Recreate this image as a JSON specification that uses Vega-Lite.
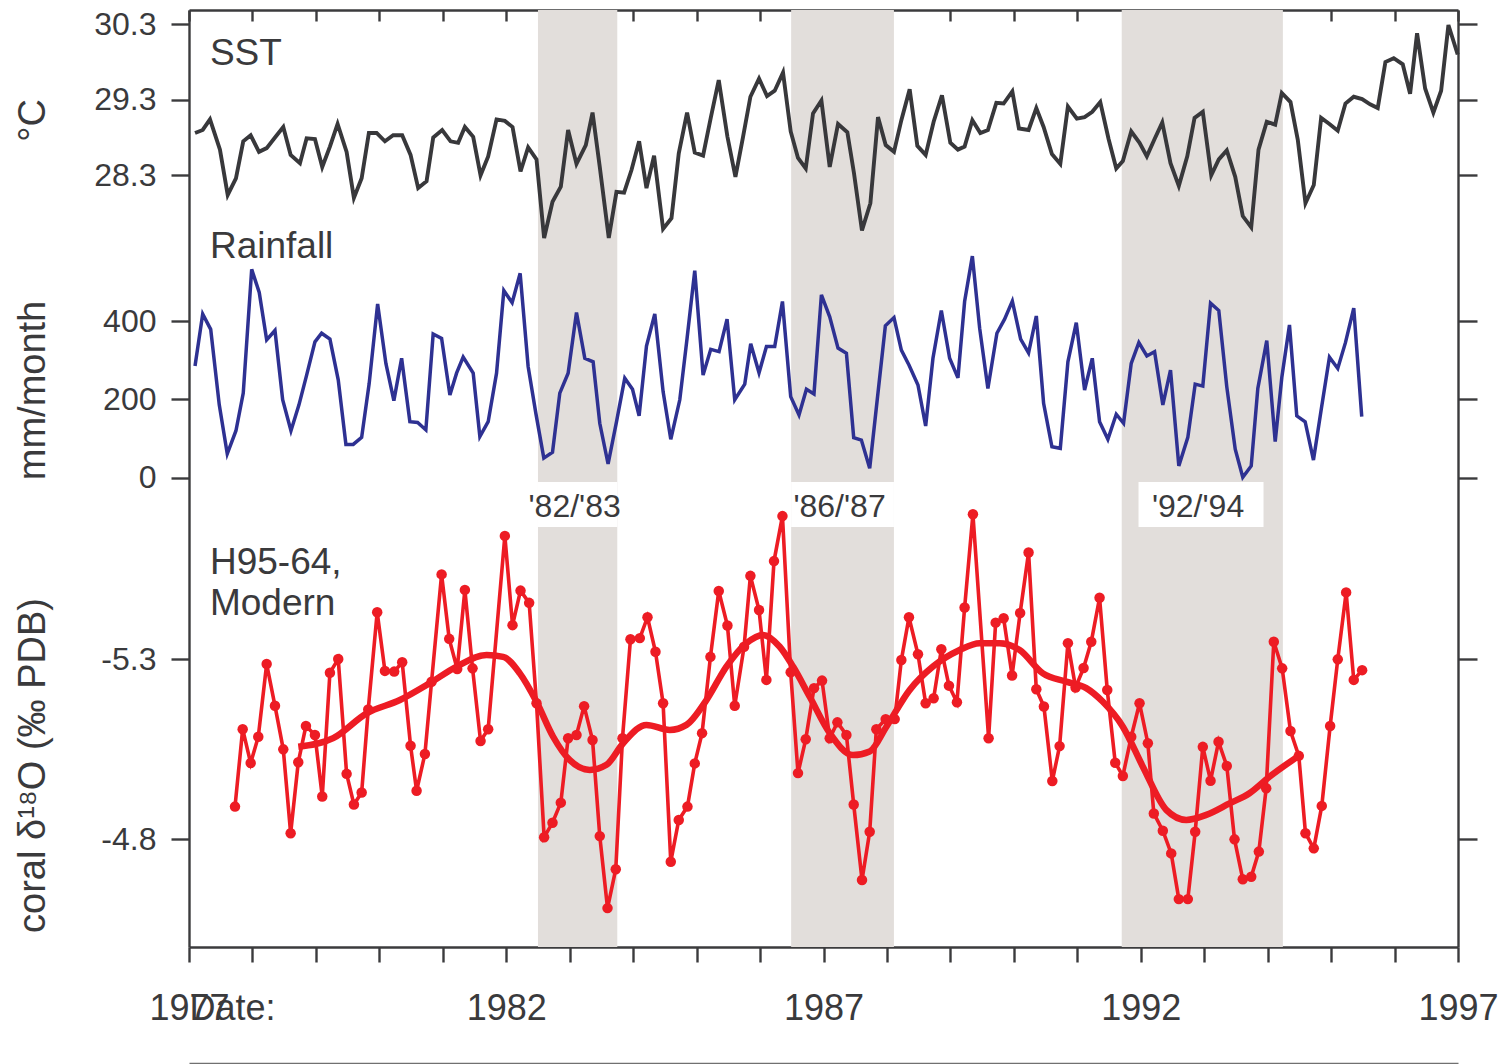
{
  "$schema": "https://vega.github.io/schema/vega-lite/v6.json",
  "width": 1269,
  "height": 937,
  "autosize": "none",
  "padding": {"left": 189, "top": 10, "right": 49, "bottom": 117},
  "background": "white",
  "config": {
    "view": {"stroke": null},
    "font": "Liberation Sans",
    "text": {"font": "Liberation Sans", "color": "#3a3a3c"},
    "axis": {
      "labelFont": "Liberation Sans",
      "titleFont": "Liberation Sans",
      "labelColor": "#3a3a3c",
      "titleColor": "#3a3a3c",
      "domainColor": "#3b3b3d",
      "tickColor": "#3b3b3d",
      "domainWidth": 2.4,
      "tickWidth": 2.4,
      "grid": false,
      "titleFontWeight": "normal",
      "labelFlush": false,
      "labelOverlap": false,
      "labelBound": false,
      "zindex": 1
    }
  },
  "datasets": {
    "events": [
      {"event": "'82/'83", "start": 1982.5, "end": 1983.75, "box_start": 1982.5, "box_end": 1983.75},
      {"event": "'86/'87", "start": 1986.49, "end": 1988.11, "box_start": 1986.49, "box_end": 1988.11},
      {"event": "'92/'94", "start": 1991.7, "end": 1994.24, "box_start": 1991.965, "box_end": 1993.935}
    ],
    "sst": [
      {"year": 1977.095, "sst": 28.86}, {"year": 1977.216, "sst": 28.90}, {"year": 1977.331, "sst": 29.04}, {"year": 1977.488, "sst": 28.64},
      {"year": 1977.610, "sst": 28.04}, {"year": 1977.740, "sst": 28.26}, {"year": 1977.855, "sst": 28.75}, {"year": 1977.972, "sst": 28.83},
      {"year": 1978.103, "sst": 28.61}, {"year": 1978.224, "sst": 28.66}, {"year": 1978.355, "sst": 28.80}, {"year": 1978.486, "sst": 28.94},
      {"year": 1978.602, "sst": 28.57}, {"year": 1978.749, "sst": 28.46}, {"year": 1978.854, "sst": 28.79}, {"year": 1978.985, "sst": 28.78},
      {"year": 1979.100, "sst": 28.41}, {"year": 1979.221, "sst": 28.68}, {"year": 1979.342, "sst": 28.98}, {"year": 1979.484, "sst": 28.61},
      {"year": 1979.599, "sst": 28.00}, {"year": 1979.721, "sst": 28.26}, {"year": 1979.835, "sst": 28.86}, {"year": 1979.957, "sst": 28.86},
      {"year": 1980.088, "sst": 28.75}, {"year": 1980.218, "sst": 28.83}, {"year": 1980.360, "sst": 28.83}, {"year": 1980.492, "sst": 28.57},
      {"year": 1980.612, "sst": 28.13}, {"year": 1980.744, "sst": 28.22}, {"year": 1980.849, "sst": 28.80}, {"year": 1980.990, "sst": 28.90},
      {"year": 1981.123, "sst": 28.75}, {"year": 1981.242, "sst": 28.73}, {"year": 1981.348, "sst": 28.94}, {"year": 1981.479, "sst": 28.81},
      {"year": 1981.595, "sst": 28.30}, {"year": 1981.715, "sst": 28.55}, {"year": 1981.847, "sst": 29.04}, {"year": 1981.978, "sst": 29.02},
      {"year": 1982.099, "sst": 28.94}, {"year": 1982.225, "sst": 28.35}, {"year": 1982.345, "sst": 28.67}, {"year": 1982.477, "sst": 28.51},
      {"year": 1982.597, "sst": 27.47}, {"year": 1982.729, "sst": 27.95}, {"year": 1982.860, "sst": 28.15}, {"year": 1982.975, "sst": 28.90},
      {"year": 1983.107, "sst": 28.45}, {"year": 1983.254, "sst": 28.70}, {"year": 1983.360, "sst": 29.13}, {"year": 1983.474, "sst": 28.41},
      {"year": 1983.616, "sst": 27.47}, {"year": 1983.737, "sst": 28.08}, {"year": 1983.857, "sst": 28.07}, {"year": 1983.974, "sst": 28.37},
      {"year": 1984.094, "sst": 28.75}, {"year": 1984.210, "sst": 28.13}, {"year": 1984.330, "sst": 28.56}, {"year": 1984.472, "sst": 27.59},
      {"year": 1984.604, "sst": 27.73}, {"year": 1984.719, "sst": 28.59}, {"year": 1984.850, "sst": 29.13}, {"year": 1984.971, "sst": 28.60},
      {"year": 1985.102, "sst": 28.56}, {"year": 1985.223, "sst": 29.06}, {"year": 1985.349, "sst": 29.56}, {"year": 1985.486, "sst": 28.81},
      {"year": 1985.612, "sst": 28.28}, {"year": 1985.732, "sst": 28.81}, {"year": 1985.848, "sst": 29.34}, {"year": 1985.984, "sst": 29.58},
      {"year": 1986.110, "sst": 29.35}, {"year": 1986.231, "sst": 29.42}, {"year": 1986.362, "sst": 29.66}, {"year": 1986.483, "sst": 28.88},
      {"year": 1986.598, "sst": 28.53}, {"year": 1986.720, "sst": 28.39}, {"year": 1986.835, "sst": 29.12}, {"year": 1986.967, "sst": 29.29},
      {"year": 1987.098, "sst": 28.41}, {"year": 1987.229, "sst": 28.98}, {"year": 1987.376, "sst": 28.87}, {"year": 1987.480, "sst": 28.33},
      {"year": 1987.606, "sst": 27.57}, {"year": 1987.739, "sst": 27.93}, {"year": 1987.859, "sst": 29.07}, {"year": 1987.980, "sst": 28.70},
      {"year": 1988.111, "sst": 28.61}, {"year": 1988.227, "sst": 29.03}, {"year": 1988.358, "sst": 29.44}, {"year": 1988.479, "sst": 28.69},
      {"year": 1988.610, "sst": 28.57}, {"year": 1988.736, "sst": 29.01}, {"year": 1988.867, "sst": 29.36}, {"year": 1988.999, "sst": 28.73},
      {"year": 1989.119, "sst": 28.64}, {"year": 1989.224, "sst": 28.68}, {"year": 1989.346, "sst": 29.03}, {"year": 1989.472, "sst": 28.86},
      {"year": 1989.591, "sst": 28.90}, {"year": 1989.724, "sst": 29.26}, {"year": 1989.839, "sst": 29.25}, {"year": 1989.976, "sst": 29.41},
      {"year": 1990.080, "sst": 28.92}, {"year": 1990.232, "sst": 28.90}, {"year": 1990.354, "sst": 29.19}, {"year": 1990.469, "sst": 28.94},
      {"year": 1990.600, "sst": 28.58}, {"year": 1990.732, "sst": 28.45}, {"year": 1990.852, "sst": 29.21}, {"year": 1990.993, "sst": 29.05},
      {"year": 1991.115, "sst": 29.07}, {"year": 1991.236, "sst": 29.14}, {"year": 1991.362, "sst": 29.27}, {"year": 1991.493, "sst": 28.78},
      {"year": 1991.614, "sst": 28.39}, {"year": 1991.718, "sst": 28.49}, {"year": 1991.850, "sst": 28.88}, {"year": 1991.981, "sst": 28.73},
      {"year": 1992.096, "sst": 28.55}, {"year": 1992.218, "sst": 28.78}, {"year": 1992.339, "sst": 29.00}, {"year": 1992.469, "sst": 28.46},
      {"year": 1992.600, "sst": 28.16}, {"year": 1992.733, "sst": 28.55}, {"year": 1992.848, "sst": 29.06}, {"year": 1992.978, "sst": 29.14},
      {"year": 1993.111, "sst": 28.30}, {"year": 1993.230, "sst": 28.51}, {"year": 1993.356, "sst": 28.63}, {"year": 1993.489, "sst": 28.28},
      {"year": 1993.608, "sst": 27.76}, {"year": 1993.741, "sst": 27.61}, {"year": 1993.856, "sst": 28.64}, {"year": 1993.986, "sst": 29.01},
      {"year": 1994.119, "sst": 28.97}, {"year": 1994.223, "sst": 29.39}, {"year": 1994.360, "sst": 29.27}, {"year": 1994.475, "sst": 28.77},
      {"year": 1994.596, "sst": 27.93}, {"year": 1994.727, "sst": 28.17}, {"year": 1994.843, "sst": 29.06}, {"year": 1994.974, "sst": 28.98},
      {"year": 1995.105, "sst": 28.89}, {"year": 1995.226, "sst": 29.25}, {"year": 1995.357, "sst": 29.34}, {"year": 1995.489, "sst": 29.31},
      {"year": 1995.615, "sst": 29.24}, {"year": 1995.735, "sst": 29.19}, {"year": 1995.856, "sst": 29.80}, {"year": 1995.987, "sst": 29.85},
      {"year": 1996.129, "sst": 29.77}, {"year": 1996.245, "sst": 29.38}, {"year": 1996.355, "sst": 30.18}, {"year": 1996.482, "sst": 29.45},
      {"year": 1996.612, "sst": 29.13}, {"year": 1996.734, "sst": 29.42}, {"year": 1996.849, "sst": 30.29}, {"year": 1996.995, "sst": 29.90}
    ],
    "rain": [
      {"year": 1977.095, "mm": 285}, {"year": 1977.216, "mm": 418}, {"year": 1977.342, "mm": 379}, {"year": 1977.477, "mm": 186},
      {"year": 1977.603, "mm": 61}, {"year": 1977.740, "mm": 120}, {"year": 1977.855, "mm": 216}, {"year": 1977.988, "mm": 532},
      {"year": 1978.107, "mm": 473}, {"year": 1978.224, "mm": 352}, {"year": 1978.355, "mm": 376}, {"year": 1978.476, "mm": 199},
      {"year": 1978.607, "mm": 120}, {"year": 1978.733, "mm": 186}, {"year": 1978.854, "mm": 262}, {"year": 1978.985, "mm": 347},
      {"year": 1979.090, "mm": 369}, {"year": 1979.221, "mm": 354}, {"year": 1979.352, "mm": 250}, {"year": 1979.473, "mm": 85},
      {"year": 1979.588, "mm": 85}, {"year": 1979.721, "mm": 103}, {"year": 1979.840, "mm": 241}, {"year": 1979.973, "mm": 444},
      {"year": 1980.103, "mm": 292}, {"year": 1980.229, "mm": 197}, {"year": 1980.351, "mm": 305}, {"year": 1980.481, "mm": 143},
      {"year": 1980.603, "mm": 141}, {"year": 1980.733, "mm": 122}, {"year": 1980.848, "mm": 367}, {"year": 1980.981, "mm": 356},
      {"year": 1981.112, "mm": 211}, {"year": 1981.217, "mm": 267}, {"year": 1981.321, "mm": 308}, {"year": 1981.479, "mm": 267},
      {"year": 1981.584, "mm": 105}, {"year": 1981.715, "mm": 143}, {"year": 1981.847, "mm": 267}, {"year": 1981.962, "mm": 478},
      {"year": 1982.093, "mm": 447}, {"year": 1982.219, "mm": 522}, {"year": 1982.345, "mm": 284}, {"year": 1982.466, "mm": 165},
      {"year": 1982.592, "mm": 50}, {"year": 1982.729, "mm": 65}, {"year": 1982.844, "mm": 216}, {"year": 1982.975, "mm": 267},
      {"year": 1983.107, "mm": 422}, {"year": 1983.238, "mm": 305}, {"year": 1983.369, "mm": 296}, {"year": 1983.474, "mm": 139},
      {"year": 1983.605, "mm": 35}, {"year": 1983.738, "mm": 143}, {"year": 1983.868, "mm": 254}, {"year": 1983.990, "mm": 226},
      {"year": 1984.094, "mm": 158}, {"year": 1984.210, "mm": 336}, {"year": 1984.341, "mm": 418}, {"year": 1984.472, "mm": 220},
      {"year": 1984.593, "mm": 98}, {"year": 1984.735, "mm": 199}, {"year": 1984.850, "mm": 356}, {"year": 1984.971, "mm": 529},
      {"year": 1985.102, "mm": 262}, {"year": 1985.223, "mm": 328}, {"year": 1985.354, "mm": 322}, {"year": 1985.480, "mm": 405},
      {"year": 1985.601, "mm": 199}, {"year": 1985.759, "mm": 239}, {"year": 1985.853, "mm": 342}, {"year": 1985.984, "mm": 268},
      {"year": 1986.101, "mm": 335}, {"year": 1986.231, "mm": 335}, {"year": 1986.353, "mm": 450}, {"year": 1986.483, "mm": 207},
      {"year": 1986.614, "mm": 160}, {"year": 1986.731, "mm": 226}, {"year": 1986.850, "mm": 214}, {"year": 1986.967, "mm": 467},
      {"year": 1987.098, "mm": 411}, {"year": 1987.229, "mm": 331}, {"year": 1987.361, "mm": 318}, {"year": 1987.476, "mm": 102},
      {"year": 1987.597, "mm": 96}, {"year": 1987.728, "mm": 24}, {"year": 1987.975, "mm": 388}, {"year": 1988.111, "mm": 409},
      {"year": 1988.227, "mm": 326}, {"year": 1988.347, "mm": 288}, {"year": 1988.489, "mm": 237}, {"year": 1988.610, "mm": 132},
      {"year": 1988.725, "mm": 305}, {"year": 1988.857, "mm": 427}, {"year": 1988.988, "mm": 305}, {"year": 1989.119, "mm": 255},
      {"year": 1989.224, "mm": 450}, {"year": 1989.346, "mm": 566}, {"year": 1989.461, "mm": 382}, {"year": 1989.591, "mm": 228},
      {"year": 1989.733, "mm": 369}, {"year": 1989.854, "mm": 405}, {"year": 1989.976, "mm": 451}, {"year": 1990.107, "mm": 354},
      {"year": 1990.232, "mm": 319}, {"year": 1990.354, "mm": 413}, {"year": 1990.469, "mm": 190}, {"year": 1990.600, "mm": 79},
      {"year": 1990.732, "mm": 75}, {"year": 1990.852, "mm": 296}, {"year": 1990.984, "mm": 396}, {"year": 1991.115, "mm": 224},
      {"year": 1991.236, "mm": 305}, {"year": 1991.351, "mm": 143}, {"year": 1991.482, "mm": 98}, {"year": 1991.614, "mm": 162},
      {"year": 1991.729, "mm": 139}, {"year": 1991.850, "mm": 292}, {"year": 1991.970, "mm": 345}, {"year": 1992.096, "mm": 311},
      {"year": 1992.218, "mm": 322}, {"year": 1992.348, "mm": 186}, {"year": 1992.469, "mm": 275}, {"year": 1992.600, "mm": 30},
      {"year": 1992.742, "mm": 103}, {"year": 1992.858, "mm": 239}, {"year": 1992.978, "mm": 234}, {"year": 1993.100, "mm": 446},
      {"year": 1993.230, "mm": 427}, {"year": 1993.356, "mm": 232}, {"year": 1993.489, "mm": 73}, {"year": 1993.608, "mm": 1},
      {"year": 1993.741, "mm": 30}, {"year": 1993.845, "mm": 228}, {"year": 1993.986, "mm": 350}, {"year": 1994.119, "mm": 92},
      {"year": 1994.223, "mm": 256}, {"year": 1994.344, "mm": 390}, {"year": 1994.459, "mm": 158}, {"year": 1994.591, "mm": 143},
      {"year": 1994.722, "mm": 45}, {"year": 1994.843, "mm": 173}, {"year": 1994.974, "mm": 308}, {"year": 1995.105, "mm": 279},
      {"year": 1995.226, "mm": 345}, {"year": 1995.357, "mm": 433}, {"year": 1995.483, "mm": 156}
    ],
    "coral": [
      {"year": 1977.725, "d18o": -4.890}, {"year": 1977.846, "d18o": -5.105}, {"year": 1977.972, "d18o": -5.011}, {"year": 1978.092, "d18o": -5.084},
      {"year": 1978.224, "d18o": -5.286}, {"year": 1978.355, "d18o": -5.170}, {"year": 1978.486, "d18o": -5.049}, {"year": 1978.602, "d18o": -4.816},
      {"year": 1978.722, "d18o": -5.013}, {"year": 1978.843, "d18o": -5.114}, {"year": 1978.985, "d18o": -5.089}, {"year": 1979.100, "d18o": -4.918},
      {"year": 1979.221, "d18o": -5.262}, {"year": 1979.352, "d18o": -5.300}, {"year": 1979.484, "d18o": -4.981}, {"year": 1979.599, "d18o": -4.896},
      {"year": 1979.721, "d18o": -4.929}, {"year": 1979.825, "d18o": -5.160}, {"year": 1979.966, "d18o": -5.430}, {"year": 1980.088, "d18o": -5.267},
      {"year": 1980.234, "d18o": -5.265}, {"year": 1980.360, "d18o": -5.291}, {"year": 1980.492, "d18o": -5.059}, {"year": 1980.587, "d18o": -4.934},
      {"year": 1980.718, "d18o": -5.036}, {"year": 1980.823, "d18o": -5.237}, {"year": 1980.981, "d18o": -5.535}, {"year": 1981.101, "d18o": -5.356},
      {"year": 1981.227, "d18o": -5.272}, {"year": 1981.348, "d18o": -5.492}, {"year": 1981.469, "d18o": -5.274}, {"year": 1981.595, "d18o": -5.072},
      {"year": 1981.715, "d18o": -5.105}, {"year": 1981.978, "d18o": -5.642}, {"year": 1982.099, "d18o": -5.394}, {"year": 1982.225, "d18o": -5.490},
      {"year": 1982.361, "d18o": -5.456}, {"year": 1982.477, "d18o": -5.177}, {"year": 1982.597, "d18o": -4.805}, {"year": 1982.729, "d18o": -4.845},
      {"year": 1982.860, "d18o": -4.901}, {"year": 1982.975, "d18o": -5.080}, {"year": 1983.107, "d18o": -5.089}, {"year": 1983.227, "d18o": -5.169},
      {"year": 1983.360, "d18o": -5.075}, {"year": 1983.474, "d18o": -4.808}, {"year": 1983.596, "d18o": -4.608}, {"year": 1983.726, "d18o": -4.716},
      {"year": 1983.832, "d18o": -5.080}, {"year": 1983.958, "d18o": -5.355}, {"year": 1984.105, "d18o": -5.358}, {"year": 1984.226, "d18o": -5.416},
      {"year": 1984.352, "d18o": -5.320}, {"year": 1984.472, "d18o": -5.177}, {"year": 1984.593, "d18o": -4.737}, {"year": 1984.719, "d18o": -4.853},
      {"year": 1984.856, "d18o": -4.890}, {"year": 1984.971, "d18o": -5.010}, {"year": 1985.086, "d18o": -5.094}, {"year": 1985.218, "d18o": -5.306},
      {"year": 1985.349, "d18o": -5.489}, {"year": 1985.486, "d18o": -5.393}, {"year": 1985.601, "d18o": -5.170}, {"year": 1985.748, "d18o": -5.334},
      {"year": 1985.848, "d18o": -5.531}, {"year": 1985.984, "d18o": -5.436}, {"year": 1986.100, "d18o": -5.242}, {"year": 1986.220, "d18o": -5.572},
      {"year": 1986.353, "d18o": -5.697}, {"year": 1986.483, "d18o": -5.263}, {"year": 1986.598, "d18o": -4.983}, {"year": 1986.720, "d18o": -5.077},
      {"year": 1986.850, "d18o": -5.219}, {"year": 1986.977, "d18o": -5.240}, {"year": 1987.098, "d18o": -5.080}, {"year": 1987.219, "d18o": -5.124},
      {"year": 1987.361, "d18o": -5.089}, {"year": 1987.476, "d18o": -4.896}, {"year": 1987.607, "d18o": -4.686}, {"year": 1987.728, "d18o": -4.820},
      {"year": 1987.833, "d18o": -5.105}, {"year": 1987.980, "d18o": -5.133}, {"year": 1988.122, "d18o": -5.133}, {"year": 1988.227, "d18o": -5.297},
      {"year": 1988.347, "d18o": -5.416}, {"year": 1988.489, "d18o": -5.313}, {"year": 1988.610, "d18o": -5.177}, {"year": 1988.736, "d18o": -5.191},
      {"year": 1988.857, "d18o": -5.327}, {"year": 1988.977, "d18o": -5.226}, {"year": 1989.103, "d18o": -5.180}, {"year": 1989.224, "d18o": -5.443},
      {"year": 1989.355, "d18o": -5.702}, {"year": 1989.602, "d18o": -5.080}, {"year": 1989.713, "d18o": -5.401}, {"year": 1989.839, "d18o": -5.413},
      {"year": 1989.972, "d18o": -5.254}, {"year": 1990.099, "d18o": -5.428}, {"year": 1990.232, "d18o": -5.596}, {"year": 1990.354, "d18o": -5.216},
      {"year": 1990.474, "d18o": -5.168}, {"year": 1990.606, "d18o": -4.961}, {"year": 1990.721, "d18o": -5.058}, {"year": 1990.852, "d18o": -5.344},
      {"year": 1990.973, "d18o": -5.221}, {"year": 1991.099, "d18o": -5.275}, {"year": 1991.220, "d18o": -5.348}, {"year": 1991.351, "d18o": -5.470},
      {"year": 1991.472, "d18o": -5.214}, {"year": 1991.598, "d18o": -5.012}, {"year": 1991.718, "d18o": -4.975}, {"year": 1991.850, "d18o": -5.084},
      {"year": 1991.981, "d18o": -5.177}, {"year": 1992.112, "d18o": -5.066}, {"year": 1992.206, "d18o": -4.871}, {"year": 1992.348, "d18o": -4.823},
      {"year": 1992.480, "d18o": -4.760}, {"year": 1992.600, "d18o": -4.633}, {"year": 1992.742, "d18o": -4.633}, {"year": 1992.858, "d18o": -4.820},
      {"year": 1992.978, "d18o": -5.056}, {"year": 1993.100, "d18o": -4.962}, {"year": 1993.226, "d18o": -5.070}, {"year": 1993.356, "d18o": -5.003},
      {"year": 1993.478, "d18o": -4.799}, {"year": 1993.608, "d18o": -4.688}, {"year": 1993.741, "d18o": -4.695}, {"year": 1993.861, "d18o": -4.765},
      {"year": 1993.977, "d18o": -4.941}, {"year": 1994.097, "d18o": -5.348}, {"year": 1994.229, "d18o": -5.274}, {"year": 1994.360, "d18o": -5.100},
      {"year": 1994.491, "d18o": -5.031}, {"year": 1994.596, "d18o": -4.816}, {"year": 1994.727, "d18o": -4.774}, {"year": 1994.853, "d18o": -4.892},
      {"year": 1994.985, "d18o": -5.114}, {"year": 1995.105, "d18o": -5.299}, {"year": 1995.237, "d18o": -5.485}, {"year": 1995.357, "d18o": -5.242},
      {"year": 1995.489, "d18o": -5.269}
    ],
    "smooth": [
      {"year": 1978.722, "d18o": -5.056}, {"year": 1979.273, "d18o": -5.080}, {"year": 1979.799, "d18o": -5.149}, {"year": 1980.324, "d18o": -5.186},
      {"year": 1980.796, "d18o": -5.233}, {"year": 1981.217, "d18o": -5.279}, {"year": 1981.690, "d18o": -5.311}, {"year": 1981.951, "d18o": -5.306},
      {"year": 1982.214, "d18o": -5.260}, {"year": 1982.477, "d18o": -5.181}, {"year": 1982.739, "d18o": -5.084}, {"year": 1983.002, "d18o": -5.019},
      {"year": 1983.317, "d18o": -4.992}, {"year": 1983.580, "d18o": -5.006}, {"year": 1983.842, "d18o": -5.066}, {"year": 1984.210, "d18o": -5.117},
      {"year": 1984.577, "d18o": -5.103}, {"year": 1984.840, "d18o": -5.117}, {"year": 1985.155, "d18o": -5.186}, {"year": 1985.470, "d18o": -5.279},
      {"year": 1985.785, "d18o": -5.344}, {"year": 1986.047, "d18o": -5.367}, {"year": 1986.310, "d18o": -5.334}, {"year": 1986.520, "d18o": -5.279},
      {"year": 1986.783, "d18o": -5.195}, {"year": 1987.098, "d18o": -5.094}, {"year": 1987.465, "d18o": -5.033}, {"year": 1987.728, "d18o": -5.043},
      {"year": 1987.991, "d18o": -5.112}, {"year": 1988.358, "d18o": -5.214}, {"year": 1988.725, "d18o": -5.279}, {"year": 1989.146, "d18o": -5.325},
      {"year": 1989.461, "d18o": -5.344}, {"year": 1989.776, "d18o": -5.344}, {"year": 1990.091, "d18o": -5.325}, {"year": 1990.458, "d18o": -5.260},
      {"year": 1990.826, "d18o": -5.237}, {"year": 1991.141, "d18o": -5.219}, {"year": 1991.403, "d18o": -5.181}, {"year": 1991.718, "d18o": -5.112},
      {"year": 1992.033, "d18o": -5.001}, {"year": 1992.402, "d18o": -4.881}, {"year": 1992.717, "d18o": -4.853}, {"year": 1993.032, "d18o": -4.867},
      {"year": 1993.399, "d18o": -4.899}, {"year": 1993.714, "d18o": -4.927}, {"year": 1994.029, "d18o": -4.973}, {"year": 1994.491, "d18o": -5.031}
    ]
  },
  "resolve": {
    "scale": {"y": "independent"},
    "axis": {"x": "independent", "y": "independent"}
  },
  "layer": [
    {
      "data": {"name": "events"},
      "mark": {"type": "rect", "color": "#e2dedb"},
      "encoding": {
        "x": {
          "field": "start", "type": "quantitative",
          "scale": {"domain": [1977, 1997], "nice": false, "zero": false},
          "axis": {
            "orient": "top",
            "values": [1977, 1978, 1979, 1980, 1981, 1982, 1983, 1984, 1985, 1986, 1987, 1988, 1989, 1990, 1991, 1992, 1993, 1994, 1995, 1996, 1997],
            "labels": false, "tickSize": -11, "title": null
          }
        },
        "x2": {"field": "end"}
      }
    },
    {
      "data": {"name": "events"},
      "mark": {"type": "rect", "color": "white"},
      "encoding": {
        "x": {
          "field": "box_start", "type": "quantitative",
          "scale": {"domain": [1977, 1997], "nice": false, "zero": false},
          "axis": {
            "orient": "bottom", "offset": 116, "ticks": false, "labels": false, "title": null,
            "domainColor": "#707070", "domainWidth": 1.3
          }
        },
        "x2": {"field": "box_end"},
        "y": {"datum": -11, "type": "quantitative", "scale": {"domain": [-1198.7, 1194.6], "nice": false, "zero": false}, "axis": null},
        "y2": {"datum": -126}
      }
    },
    {
      "data": {"name": "events"},
      "transform": [{"calculate": "(datum.box_start + datum.box_end) / 2", "as": "mid"}],
      "mark": {"type": "text", "fontSize": 32, "align": "center", "baseline": "alphabetic", "dx": -3, "color": "#3a3a3c"},
      "encoding": {
        "x": {"field": "mid", "type": "quantitative", "scale": {"domain": [1977, 1997], "nice": false, "zero": false}, "axis": null},
        "y": {"datum": -100, "type": "quantitative", "scale": {"domain": [-1198.7, 1194.6], "nice": false, "zero": false}, "axis": null},
        "text": {"field": "event"}
      }
    },
    {
      "data": {"name": "sst"},
      "mark": {"type": "line", "color": "#38383b", "strokeWidth": 3.9, "strokeJoin": "miter"},
      "encoding": {
        "x": {
          "field": "year", "type": "quantitative",
          "scale": {"domain": [1977, 1997], "nice": false, "zero": false},
          "axis": {
            "orient": "bottom",
            "values": [1977, 1978, 1979, 1980, 1981, 1982, 1983, 1984, 1985, 1986, 1987, 1988, 1989, 1990, 1991, 1992, 1993, 1994, 1995, 1996, 1997],
            "labelExpr": "datum.value % 5 == 2 ? '' + datum.value : ''",
            "tickSize": 15, "labelFontSize": 36, "labelBaseline": "alphabetic", "labelPadding": 57,
            "title": "Date:", "titleFontSize": 36, "titleX": 0, "titleY": 72,
            "titleAlign": "left", "titleBaseline": "alphabetic", "titleAnchor": "start"
          }
        },
        "y": {
          "field": "sst", "type": "quantitative",
          "scale": {"domain": [18.079, 30.489], "nice": false, "zero": false},
          "axis": {
            "orient": "left", "values": [28.3, 29.3, 30.3], "format": ".1f",
            "tickSize": 18, "labelPadding": 15, "labelFontSize": 32,
            "title": "°C", "titleFontSize": 38, "titleAngle": -90, "titleX": -145, "titleY": 110,
            "titleAlign": "center", "titleBaseline": "alphabetic"
          }
        }
      }
    },
    {
      "data": {"values": [{"label": "SST"}]},
      "mark": {"type": "text", "fontSize": 37, "align": "left", "baseline": "alphabetic", "color": "#3a3a3c"},
      "encoding": {
        "x": {"datum": 1977.33, "type": "quantitative", "scale": {"domain": [1977, 1997], "nice": false, "zero": false}, "axis": null},
        "y": {
          "datum": 29.754, "type": "quantitative",
          "scale": {"domain": [18.079, 30.489], "nice": false, "zero": false},
          "axis": {"orient": "right", "values": [28.3, 29.3, 30.3], "labels": false, "tickSize": 19, "title": null}
        },
        "text": {"field": "label"}
      }
    },
    {
      "data": {"name": "rain"},
      "mark": {"type": "line", "color": "#2e3192", "strokeWidth": 3.5, "strokeJoin": "miter"},
      "encoding": {
        "x": {"field": "year", "type": "quantitative", "scale": {"domain": [1977, 1997], "nice": false, "zero": false}, "axis": null},
        "y": {
          "field": "mm", "type": "quantitative",
          "scale": {"domain": [-1198.7, 1194.6], "nice": false, "zero": false},
          "axis": {
            "orient": "left", "values": [0, 200, 400], "domain": false,
            "tickSize": 18, "labelPadding": 15, "labelFontSize": 32,
            "title": "mm/month", "titleFontSize": 38, "titleAngle": -90, "titleX": -145, "titleY": 380,
            "titleAlign": "center", "titleBaseline": "alphabetic"
          }
        }
      }
    },
    {
      "data": {"values": [{"label": "Rainfall"}]},
      "mark": {"type": "text", "fontSize": 37, "align": "left", "baseline": "alphabetic", "color": "#3a3a3c"},
      "encoding": {
        "x": {"datum": 1977.33, "type": "quantitative", "scale": {"domain": [1977, 1997], "nice": false, "zero": false}, "axis": null},
        "y": {
          "datum": 560, "type": "quantitative",
          "scale": {"domain": [-1198.7, 1194.6], "nice": false, "zero": false},
          "axis": {"orient": "right", "values": [0, 200, 400], "labels": false, "domain": false, "tickSize": 19, "title": null}
        },
        "text": {"field": "label"}
      }
    },
    {
      "data": {"name": "smooth"},
      "mark": {"type": "line", "color": "#ed1c24", "strokeWidth": 6.5, "interpolate": "monotone"},
      "encoding": {
        "x": {"field": "year", "type": "quantitative", "scale": {"domain": [1977, 1997], "nice": false, "zero": false}, "axis": null},
        "y": {
          "field": "d18o", "type": "quantitative",
          "scale": {"domain": [-7.1028, -4.5], "reverse": true, "nice": false, "zero": false},
          "axis": {"orient": "right", "values": [-5.3, -4.8], "labels": false, "domain": false, "tickSize": 19, "title": null}
        }
      }
    },
    {
      "data": {"name": "coral"},
      "mark": {"type": "line", "color": "#ed1c24", "strokeWidth": 3.6, "strokeJoin": "miter",
               "point": {"filled": true, "size": 110, "color": "#ed1c24", "opacity": 1}},
      "encoding": {
        "x": {"field": "year", "type": "quantitative", "scale": {"domain": [1977, 1997], "nice": false, "zero": false}, "axis": null},
        "y": {
          "field": "d18o", "type": "quantitative",
          "scale": {"domain": [-7.1028, -4.5], "reverse": true, "nice": false, "zero": false},
          "axis": {
            "orient": "left", "values": [-5.3, -4.8], "domain": false,
            "labelExpr": "datum.value < 0 ? '-' + format(-datum.value, '.1f') : format(datum.value, '.1f')",
            "tickSize": 18, "labelPadding": 15, "labelFontSize": 32,
            "title": "coral δ¹⁸O (‰ PDB)", "titleFontSize": 38, "titleAngle": -90, "titleX": -145, "titleY": 755,
            "titleAlign": "center", "titleBaseline": "alphabetic"
          }
        }
      }
    },
    {
      "data": {"values": [{"label": "H95-64,\nModern"}]},
      "mark": {"type": "text", "fontSize": 37, "align": "left", "baseline": "alphabetic", "lineBreak": "\n", "lineHeight": 41, "color": "#3a3a3c"},
      "encoding": {
        "x": {"datum": 1977.33, "type": "quantitative", "scale": {"domain": [1977, 1997], "nice": false, "zero": false}, "axis": null},
        "y": {"datum": -5.535, "type": "quantitative", "scale": {"domain": [-7.1028, -4.5], "reverse": true, "nice": false, "zero": false}, "axis": null},
        "text": {"field": "label"}
      }
    }
  ]
}
